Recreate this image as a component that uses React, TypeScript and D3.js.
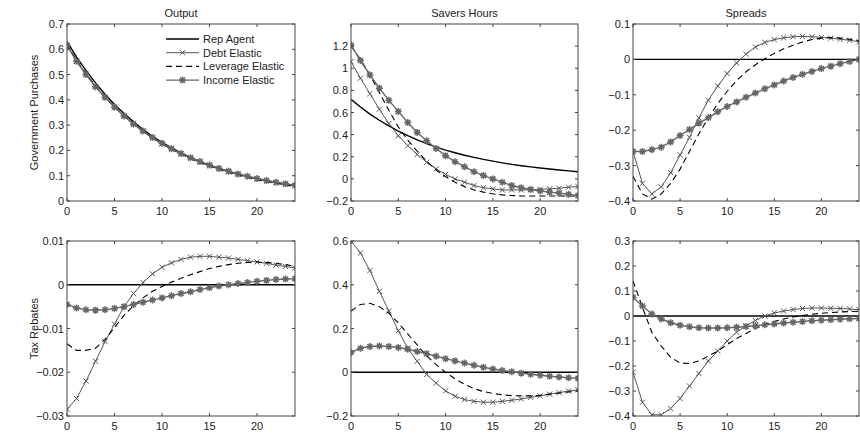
import React from "react";
import * as d3 from "d3";

// horizon (quarters)
const periods = d3.range(0, 25);
const xTicks = [0, 5, 10, 15, 20];

const seriesNames = ["Rep Agent", "Debt Elastic", "Leverage Elastic", "Income Elastic"];

// Government purchases -> Output
const gOutRep = [0.630, 0.570, 0.516, 0.467, 0.422, 0.382, 0.346, 0.313, 0.283, 0.256, 0.232, 0.210, 0.190, 0.172, 0.156, 0.142, 0.129, 0.117, 0.106, 0.096, 0.088, 0.080, 0.073, 0.066, 0.060];
const gOutDebt = [0.615, 0.553, 0.500, 0.452, 0.409, 0.370, 0.335, 0.303, 0.275, 0.249, 0.226, 0.205, 0.186, 0.169, 0.153, 0.139, 0.127, 0.115, 0.105, 0.096, 0.087, 0.079, 0.072, 0.066, 0.060];
const gOutLev = [0.620, 0.558, 0.504, 0.456, 0.412, 0.373, 0.337, 0.305, 0.276, 0.250, 0.226, 0.205, 0.186, 0.168, 0.152, 0.138, 0.125, 0.113, 0.103, 0.093, 0.084, 0.077, 0.070, 0.063, 0.057];
const gOutInc = [0.615, 0.553, 0.500, 0.452, 0.410, 0.371, 0.336, 0.305, 0.277, 0.251, 0.228, 0.207, 0.188, 0.171, 0.156, 0.142, 0.129, 0.118, 0.107, 0.098, 0.089, 0.081, 0.074, 0.068, 0.062];

// Government purchases -> Savers Hours
const gHrsRep = [0.72, 0.65, 0.585, 0.53, 0.48, 0.432, 0.39, 0.352, 0.318, 0.287, 0.26, 0.236, 0.214, 0.194, 0.176, 0.16, 0.145, 0.131, 0.119, 0.108, 0.098, 0.089, 0.08, 0.072, 0.065];
const gHrsDebt = [1.06, 0.91, 0.77, 0.63, 0.50, 0.39, 0.30, 0.22, 0.15, 0.09, 0.04, 0.0, -0.03, -0.06, -0.08, -0.09, -0.10, -0.10, -0.10, -0.10, -0.095, -0.09, -0.085, -0.075, -0.07];
const gHrsLev = [1.2, 1.08, 0.94, 0.78, 0.62, 0.47, 0.35, 0.25, 0.16, 0.08, 0.02, -0.03, -0.07, -0.10, -0.12, -0.135, -0.145, -0.15, -0.155, -0.155, -0.155, -0.155, -0.155, -0.155, -0.155];
const gHrsInc = [1.21, 1.07, 0.94, 0.82, 0.71, 0.61, 0.51, 0.42, 0.345, 0.275, 0.21, 0.155, 0.11, 0.065, 0.03, 0.0, -0.03, -0.06, -0.08, -0.095, -0.11, -0.12, -0.13, -0.14, -0.15];

// Government purchases -> Spreads
const gSprRep = [0, 0, 0, 0, 0, 0, 0, 0, 0, 0, 0, 0, 0, 0, 0, 0, 0, 0, 0, 0, 0, 0, 0, 0, 0];
const gSprDebt = [-0.26, -0.35, -0.38, -0.36, -0.32, -0.27, -0.22, -0.165, -0.115, -0.075, -0.04, -0.01, 0.015, 0.035, 0.048, 0.056, 0.061, 0.064, 0.065, 0.064, 0.062, 0.060, 0.057, 0.054, 0.050];
const gSprLev = [-0.33, -0.38, -0.395, -0.38, -0.35, -0.31, -0.26, -0.21, -0.165, -0.125, -0.09, -0.06, -0.035, -0.015, 0.002, 0.017, 0.03, 0.04, 0.049, 0.056, 0.06, 0.062, 0.06, 0.057, 0.052];
const gSprInc = [-0.26, -0.26, -0.255, -0.248, -0.233, -0.215, -0.198, -0.18, -0.165, -0.148, -0.133, -0.12, -0.107, -0.095, -0.083, -0.072, -0.061, -0.051, -0.042, -0.034, -0.026, -0.019, -0.012, -0.006, 0.0];

// Tax rebates -> Output
const tOutRep = [0, 0, 0, 0, 0, 0, 0, 0, 0, 0, 0, 0, 0, 0, 0, 0, 0, 0, 0, 0, 0, 0, 0, 0, 0];
const tOutDebt = [-0.0285, -0.026, -0.022, -0.0175, -0.013, -0.009, -0.005, -0.002, 0.0005, 0.0025, 0.004, 0.005, 0.0058, 0.0063, 0.0065, 0.0065, 0.0063, 0.0061, 0.0058, 0.0055, 0.0052, 0.0049, 0.0045, 0.0042, 0.0038];
const tOutLev = [-0.0135, -0.015, -0.015, -0.0145, -0.0125, -0.0098, -0.007, -0.0048, -0.003, -0.0015, -0.0004, 0.0006, 0.0015, 0.0023, 0.003, 0.0037, 0.0042, 0.0046, 0.0049, 0.0051, 0.0052, 0.0051, 0.0049, 0.0046, 0.0042];
const tOutInc = [-0.0045, -0.0053, -0.0057, -0.0058, -0.0057, -0.0054, -0.005, -0.0045, -0.004, -0.0035, -0.003, -0.0025, -0.002, -0.0016, -0.0011, -0.0007, -0.0003, 0.0, 0.0003, 0.0005, 0.0008, 0.001, 0.0012, 0.0013, 0.0014];

// Tax rebates -> Savers Hours
const tHrsRep = [0, 0, 0, 0, 0, 0, 0, 0, 0, 0, 0, 0, 0, 0, 0, 0, 0, 0, 0, 0, 0, 0, 0, 0, 0];
const tHrsDebt = [0.6, 0.545, 0.465, 0.37, 0.28, 0.19, 0.11, 0.05, -0.01, -0.05, -0.085, -0.11, -0.125, -0.133, -0.137, -0.137, -0.133, -0.128, -0.122, -0.115, -0.108, -0.1, -0.093, -0.086, -0.08];
const tHrsLev = [0.28, 0.31, 0.315, 0.3, 0.27, 0.225, 0.175, 0.125, 0.075, 0.035, 0.0, -0.03, -0.055, -0.075, -0.088, -0.097, -0.103, -0.107, -0.108, -0.108, -0.105, -0.1, -0.095, -0.09, -0.085];
const tHrsInc = [0.09, 0.11, 0.118, 0.12, 0.118, 0.113, 0.105, 0.095, 0.085, 0.073, 0.062, 0.052, 0.042, 0.032, 0.023, 0.015, 0.008, 0.002, -0.004, -0.009, -0.014, -0.018, -0.022, -0.025, -0.028];

// Tax rebates -> Spreads
const tSprRep = [0, 0, 0, 0, 0, 0, 0, 0, 0, 0, 0, 0, 0, 0, 0, 0, 0, 0, 0, 0, 0, 0, 0, 0, 0];
const tSprDebt = [-0.225, -0.345, -0.395, -0.395, -0.37, -0.33, -0.28, -0.23, -0.18, -0.14, -0.1, -0.065, -0.04, -0.018, 0.0, 0.012, 0.02, 0.026, 0.03, 0.032, 0.032, 0.031, 0.03, 0.028, 0.025];
const tSprLev = [0.14, 0.035, -0.065, -0.12, -0.165, -0.188, -0.19, -0.18, -0.16, -0.14, -0.115, -0.09, -0.07, -0.05, -0.035, -0.022, -0.012, -0.004, 0.002, 0.007, 0.011, 0.014, 0.016, 0.018, 0.019];
const tSprInc = [0.075, 0.04, 0.008, -0.012, -0.027, -0.037, -0.043, -0.047, -0.048, -0.048, -0.047, -0.045, -0.042, -0.039, -0.035, -0.032, -0.028, -0.025, -0.022, -0.019, -0.017, -0.015, -0.013, -0.011, -0.01];

const FONT = "'Liberation Sans', Arial, Helvetica, sans-serif";
const AXIS = "#444";
const styles = [
  { stroke: "#000", width: 1.4, dash: undefined as string | undefined, marker: "none" },
  { stroke: "#555", width: 1, dash: undefined, marker: "x" },
  { stroke: "#000", width: 1.1, dash: "6,4", marker: "none" },
  { stroke: "#666", width: 1.4, dash: undefined, marker: "star" },
];

const fmt = (v: number) => String(+v.toFixed(4)).replace("-", "\u2212");

function Marker({ kind, x, y, color }: { kind: string; x: number; y: number; color: string }) {
  if (kind === "x") {
    const s = 2.6;
    return (
      <path d={`M${x - s},${y - s}L${x + s},${y + s}M${x - s},${y + s}L${x + s},${y - s}`} stroke={color} strokeWidth={1} />
    );
  }
  if (kind === "star") {
    const s = 3.5;
    const d = s * 0.72;
    return (
      <path
        d={`M${x - s},${y}L${x + s},${y}M${x},${y - s}L${x},${y + s}M${x - d},${y - d}L${x + d},${y + d}M${x - d},${y + d}L${x + d},${y - d}`}
        stroke={color}
        strokeWidth={1.5}
      />
    );
  }
  return null;
}

type PanelProps = {
  id: string;
  left: number;
  right: number;
  top: number;
  bottom: number;
  yDomain: [number, number];
  yTicks: number[];
  series: number[][];
  title?: string;
  ylabel?: string;
  legend?: boolean;
};

function Panel(p: PanelProps) {
  const x = d3.scaleLinear().domain([0, 24]).range([p.left, p.right]);
  const y = d3.scaleLinear().domain(p.yDomain).range([p.bottom, p.top]);
  const line = d3
    .line<number>()
    .x((_, i) => x(periods[i]))
    .y((d) => y(d));
  const tl = 3;
  return (
    <g>
      <clipPath id={p.id}>
        <rect x={p.left} y={p.top} width={p.right - p.left} height={p.bottom - p.top} />
      </clipPath>
      <g clipPath={`url(#${p.id})`}>
        {p.series.map((s, k) => (
          <g key={k}>
            <path
              d={line(s) || ""}
              fill="none"
              stroke={styles[k].stroke}
              strokeWidth={styles[k].width}
              strokeDasharray={styles[k].dash}
            />
            {s.map((v, i) => (
              <Marker key={i} kind={styles[k].marker} x={x(periods[i])} y={y(v)} color={styles[k].stroke} />
            ))}
          </g>
        ))}
      </g>
      <rect
        x={p.left}
        y={p.top}
        width={p.right - p.left}
        height={p.bottom - p.top}
        fill="none"
        stroke={AXIS}
        strokeWidth={1}
      />
      {xTicks.map((t) => (
        <g key={"x" + t}>
          <line x1={x(t)} x2={x(t)} y1={p.bottom} y2={p.bottom - tl} stroke={AXIS} />
          <line x1={x(t)} x2={x(t)} y1={p.top} y2={p.top + tl} stroke={AXIS} />
          <text x={x(t)} y={p.bottom + 14} textAnchor="middle" fontSize={11} fill="#222">
            {t}
          </text>
        </g>
      ))}
      {p.yTicks.map((t) => (
        <g key={"y" + t}>
          <line x1={p.left} x2={p.left + tl} y1={y(t)} y2={y(t)} stroke={AXIS} />
          <line x1={p.right} x2={p.right - tl} y1={y(t)} y2={y(t)} stroke={AXIS} />
          <text x={p.left - 3} y={y(t) + 4} textAnchor="end" fontSize={11} fill="#222">
            {fmt(t)}
          </text>
        </g>
      ))}
      {p.title && (
        <text x={(p.left + p.right) / 2} y={p.top - 7} textAnchor="middle" fontSize={11} fill="#222">
          {p.title}
        </text>
      )}
      {p.ylabel && (
        <text
          transform={`translate(${p.left - 29},${(p.top + p.bottom) / 2}) rotate(-90)`}
          textAnchor="middle"
          fontSize={11}
          fill="#222"
        >
          {p.ylabel}
        </text>
      )}
      {p.legend &&
        seriesNames.map((name, k) => {
          const ly = p.top + 15 + k * 13.7;
          const lx0 = p.left + 99;
          const lx1 = p.left + 132;
          return (
            <g key={name}>
              <line
                x1={lx0}
                x2={lx1}
                y1={ly}
                y2={ly}
                stroke={styles[k].stroke}
                strokeWidth={styles[k].width}
                strokeDasharray={styles[k].dash}
              />
              <Marker kind={styles[k].marker} x={(lx0 + lx1) / 2} y={ly} color={styles[k].stroke} />
              <text x={lx1 + 4} y={ly + 4} fontSize={11} fill="#222">
                {name}
              </text>
            </g>
          );
        })}
    </g>
  );
}

const cols = [
  { left: 67, right: 295 },
  { left: 351, right: 578 },
  { left: 633, right: 859 },
];
const rows = [
  { top: 24, bottom: 201 },
  { top: 241, bottom: 416 },
];

export default function App() {
  return (
    <div style={{ position: "absolute", left: 0, top: 0 }}>
      <svg width={860} height={435} style={{ display: "block", background: "#fff", fontFamily: FONT }}>
        <Panel
          id="c1"
          {...cols[0]}
          {...rows[0]}
          yDomain={[0, 0.7]}
          yTicks={[0, 0.1, 0.2, 0.3, 0.4, 0.5, 0.6, 0.7]}
          series={[gOutRep, gOutDebt, gOutLev, gOutInc]}
          title="Output"
          ylabel="Government Purchases"
          legend
        />
        <Panel
          id="c2"
          {...cols[1]}
          {...rows[0]}
          yDomain={[-0.2, 1.4]}
          yTicks={[-0.2, 0, 0.2, 0.4, 0.6, 0.8, 1, 1.2]}
          series={[gHrsRep, gHrsDebt, gHrsLev, gHrsInc]}
          title="Savers Hours"
        />
        <Panel
          id="c3"
          {...cols[2]}
          {...rows[0]}
          yDomain={[-0.4, 0.1]}
          yTicks={[-0.4, -0.3, -0.2, -0.1, 0, 0.1]}
          series={[gSprRep, gSprDebt, gSprLev, gSprInc]}
          title="Spreads"
        />
        <Panel
          id="c4"
          {...cols[0]}
          {...rows[1]}
          yDomain={[-0.03, 0.01]}
          yTicks={[-0.03, -0.02, -0.01, 0, 0.01]}
          series={[tOutRep, tOutDebt, tOutLev, tOutInc]}
          ylabel="Tax Rebates"
        />
        <Panel
          id="c5"
          {...cols[1]}
          {...rows[1]}
          yDomain={[-0.2, 0.6]}
          yTicks={[-0.2, 0, 0.2, 0.4, 0.6]}
          series={[tHrsRep, tHrsDebt, tHrsLev, tHrsInc]}
        />
        <Panel
          id="c6"
          {...cols[2]}
          {...rows[1]}
          yDomain={[-0.4, 0.3]}
          yTicks={[-0.4, -0.3, -0.2, -0.1, 0, 0.1, 0.2, 0.3]}
          series={[tSprRep, tSprDebt, tSprLev, tSprInc]}
        />
      </svg>
    </div>
  );
}
